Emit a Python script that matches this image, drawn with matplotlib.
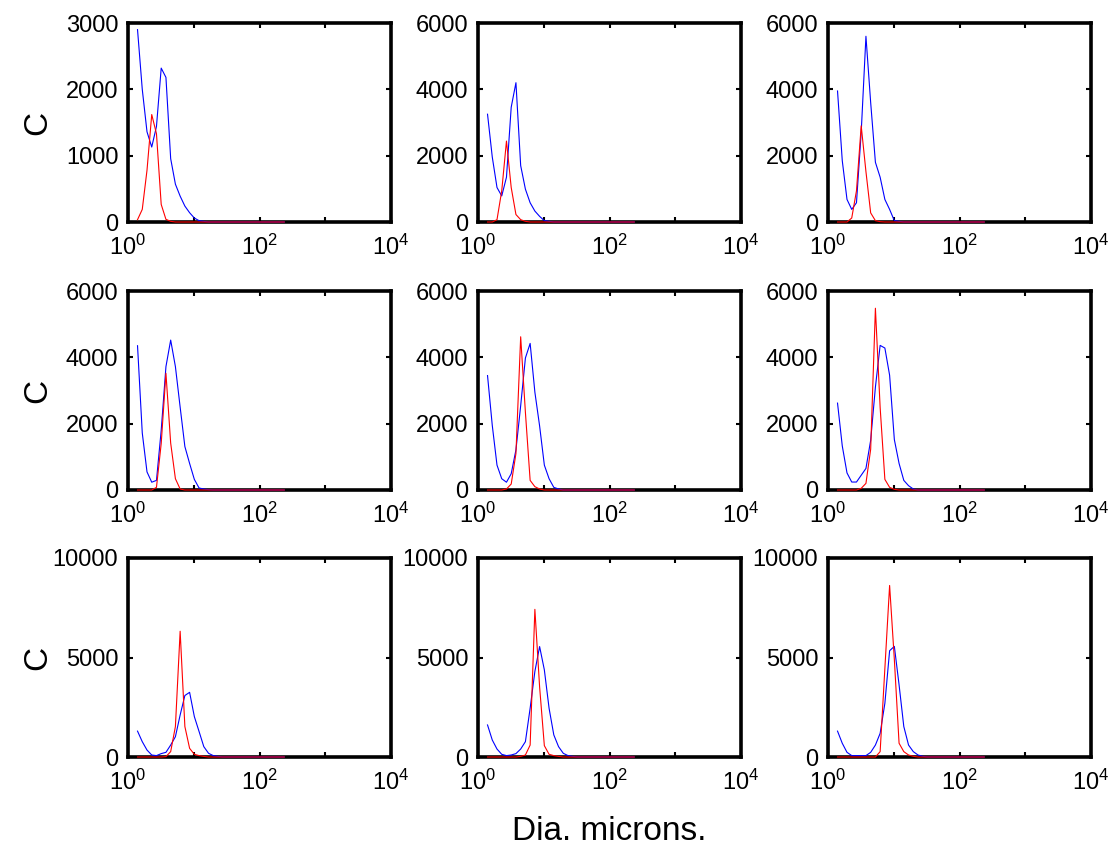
import matplotlib
matplotlib.use("Agg")
import matplotlib.pyplot as plt
from matplotlib.ticker import FixedLocator, FixedFormatter, NullLocator

plt.rcParams['font.family'] = ['Liberation Sans', 'DejaVu Sans']
plt.rcParams['mathtext.fontset'] = 'custom'
plt.rcParams['mathtext.rm'] = 'Liberation Sans'
plt.rcParams['mathtext.it'] = 'Liberation Sans:italic'
plt.rcParams['mathtext.bf'] = 'Liberation Sans:bold'

# bin centres (microns)
diameters = [1.396, 1.648, 1.945, 2.296, 2.710, 3.199, 3.776, 4.457, 5.260, 6.209,
             7.328, 8.650, 10.21, 12.05, 14.22, 16.79, 19.82, 23.39, 27.61, 32.58,
             38.46, 45.39, 53.58, 63.24, 74.64, 88.10, 104.0, 122.7, 144.9, 171.0,
             201.8, 238.2]

def tail(vals):
    return vals + [0] * (len(diameters) - len(vals))

blue_1 = tail([2900, 2000, 1360, 1130, 1440, 2320, 2180, 955, 570, 390, 240, 140, 60, 20, 10])
red_1 = tail([35, 190, 780, 1620, 1330, 265, 40, 10])
blue_2 = tail([3250, 1960, 1040, 785, 1350, 3460, 4200, 1700, 990, 580, 330, 170, 40, 20])
red_2 = tail([0, 0, 70, 940, 2440, 1040, 225, 70, 20])
blue_3 = tail([3950, 1850, 680, 380, 580, 2700, 5600, 3600, 1800, 1350, 680, 380, 40, 20])
red_3 = tail([0, 0, 0, 120, 940, 2900, 1520, 275, 40, 10])
blue_4 = tail([4350, 1720, 545, 235, 290, 1800, 3720, 4520, 3720, 2500, 1310, 800, 320, 60, 30, 10])
red_4 = tail([0, 0, 0, 0, 80, 1400, 3520, 1415, 340, 30])
blue_5 = tail([3450, 1950, 750, 340, 235, 490, 1210, 2540, 3980, 4420, 2950, 1930, 750, 340, 80, 30])
red_5 = tail([0, 0, 0, 0, 30, 180, 1100, 4620, 2340, 290, 100, 30])
blue_6 = tail([2620, 1330, 515, 240, 240, 445, 650, 1500, 3100, 4360, 4280, 3460, 1520, 800, 290, 130, 30])
red_6 = tail([0, 0, 0, 0, 0, 50, 200, 1230, 5480, 2490, 320, 80, 20])
blue_7 = tail([1300, 770, 350, 100, 70, 170, 235, 600, 1020, 2110, 3090, 3250, 2030, 1280, 520, 185, 70, 30])
red_7 = tail([0, 0, 0, 0, 0, 0, 20, 270, 1530, 6320, 1530, 435, 135, 70, 30])
blue_8 = tail([1610, 855, 400, 135, 70, 100, 170, 400, 770, 2450, 4300, 5550, 4380, 2450, 1110, 520, 185, 70, 30])
red_8 = tail([0, 0, 0, 0, 0, 0, 0, 30, 100, 600, 7420, 3520, 570, 135, 70, 30])
blue_9 = tail([1300, 690, 235, 70, 70, 70, 70, 235, 600, 1190, 2700, 5340, 5560, 3625, 1530, 600, 270, 100, 35])
red_9 = tail([0, 0, 0, 0, 0, 0, 0, 0, 0, 270, 4450, 8620, 4900, 690, 270, 100, 35])

blue_series = [blue_1, blue_2, blue_3, blue_4, blue_5, blue_6, blue_7, blue_8, blue_9]
red_series = [red_1, red_2, red_3, red_4, red_5, red_6, red_7, red_8, red_9]

y_maxes = [3000, 6000, 6000, 6000, 6000, 6000, 10000, 10000, 10000]
y_ticks = [[0, 1000, 2000, 3000]] + [[0, 2000, 4000, 6000]] * 5 + [[0, 5000, 10000]] * 3

x_tick_vals = [1, 10, 100, 1000, 10000]
x_tick_labels = ['$10^{0}$', '', '$10^{2}$', '', '$10^{4}$']

y_label = 'C'
x_label = 'Dia. microns.'

W, H = 1112, 846
fig = plt.figure(figsize=(W / 100, H / 100), dpi=100)

lefts = [128, 478, 828]
tops = [23, 291, 558]
aw, ah = 263, 199

for i in range(9):
    r, c = divmod(i, 3)
    ax = fig.add_axes([lefts[c] / W, 1 - (tops[r] + ah) / H, aw / W, ah / H])
    ax.plot(diameters, blue_series[i], color='#0000ff', lw=0.8, zorder=3, clip_on=False)
    ax.plot(diameters, red_series[i], color='#ff0000', lw=0.8, zorder=3.1, clip_on=False)
    ax.set_xscale('log')
    ax.set_xlim(1, 10000)
    ax.set_ylim(0, y_maxes[i])
    ax.xaxis.set_major_locator(FixedLocator(x_tick_vals))
    ax.xaxis.set_major_formatter(FixedFormatter(x_tick_labels))
    ax.xaxis.set_minor_locator(NullLocator())
    ax.set_yticks(y_ticks[i])
    ax.set_yticklabels([str(v) for v in y_ticks[i]])
    ax.tick_params(axis='both', direction='in', length=3.5, width=1.5,
                   top=True, right=True, labelsize=17)
    ax.tick_params(axis='x', pad=9)
    ax.tick_params(axis='y', pad=7)
    for s in ax.spines.values():
        s.set_linewidth(2.6)

for r in range(3):
    yc = tops[r] + ah / 2
    fig.text(38 / W, 1 - yc / H, y_label, rotation=90, ha='center', va='center', fontsize=24)

fig.text(609 / W, 6 / H, x_label, ha='center', va='baseline', fontsize=24)

fig.savefig('out.png', dpi=100)
